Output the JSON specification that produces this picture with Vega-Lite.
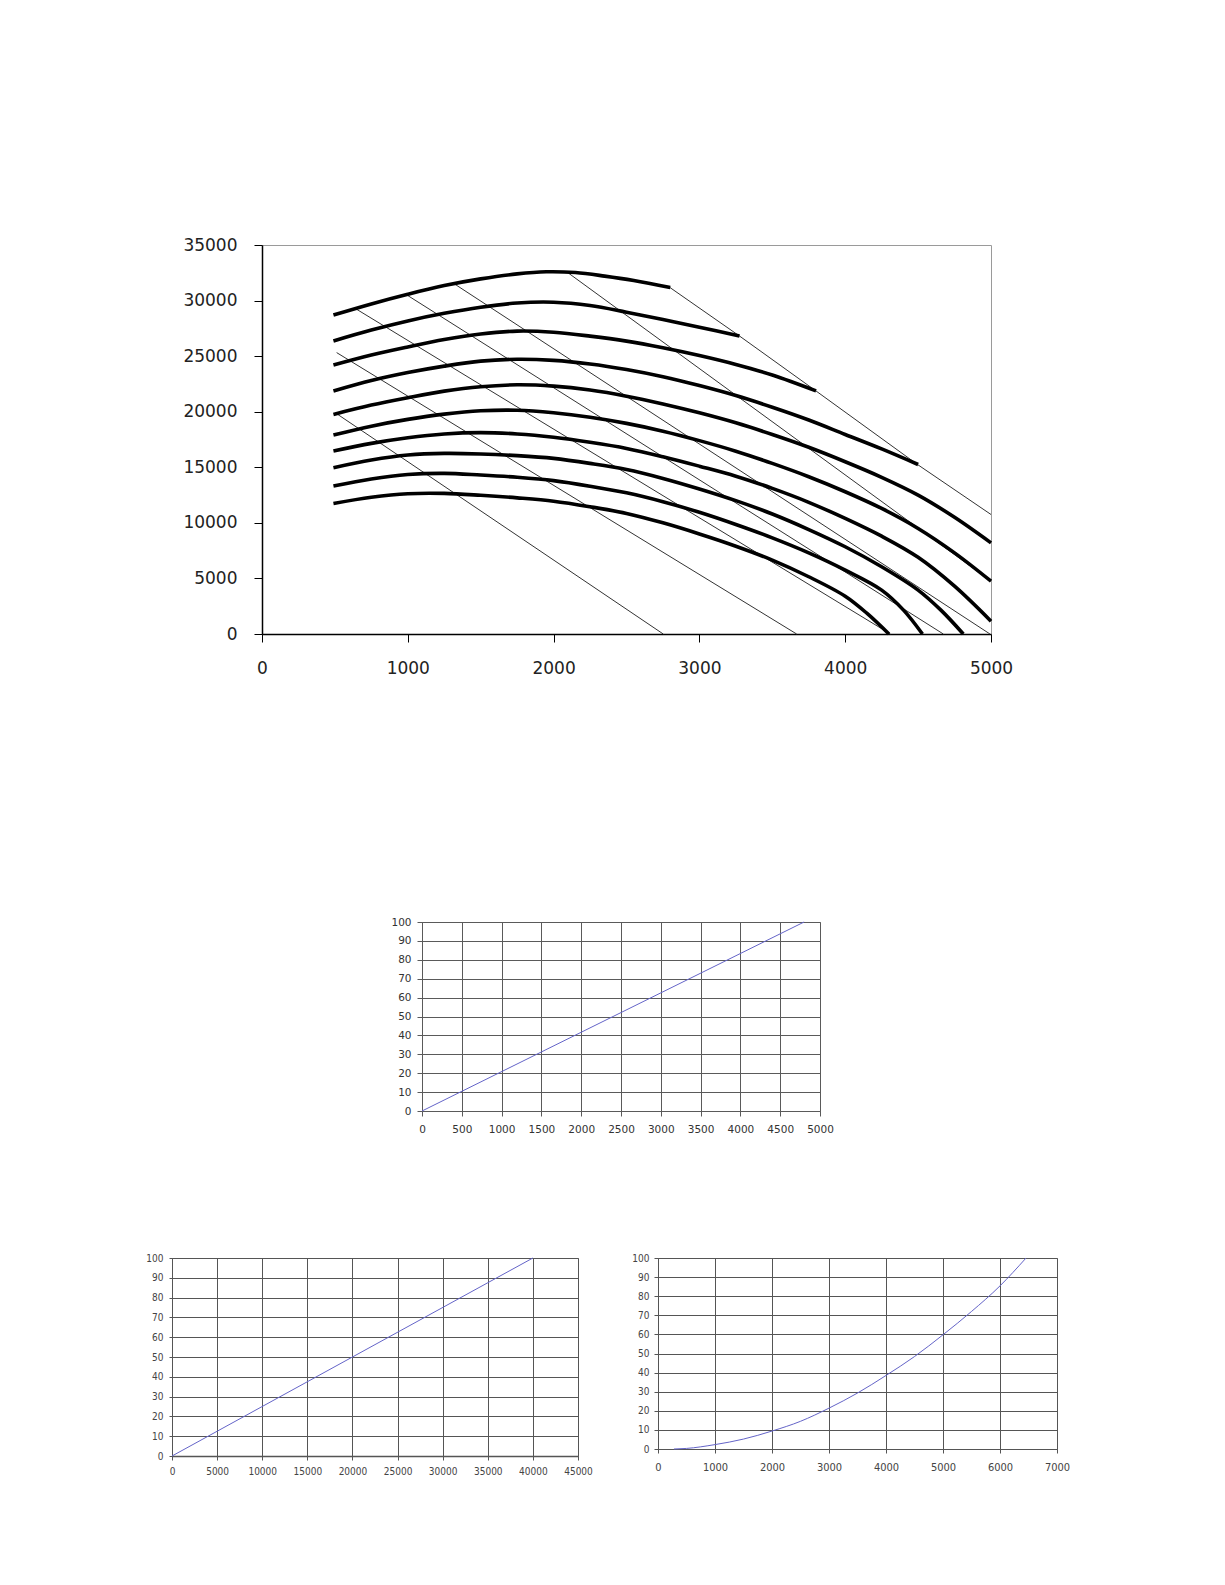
{
  "$schema": "https://vega.github.io/schema/vega-lite/v6.json",
  "padding": {"left": 0, "top": 235, "right": 0, "bottom": 0},
  "background": "white",
  "spacing": 0,
  "config": {"view": {"stroke": null}},
  "datasets": {
    "curves": [
      {"c":"c1","q":490,"h":28700},{"c":"c1","q":750,"h":29700},{"c":"c1","q":1000,"h":30570},{"c":"c1","q":1250,"h":31350},{"c":"c1","q":1500,"h":31950},{"c":"c1","q":1750,"h":32400},{"c":"c1","q":1950,"h":32590},{"c":"c1","q":2150,"h":32520},{"c":"c1","q":2350,"h":32200},{"c":"c1","q":2550,"h":31800},{"c":"c1","q":2800,"h":31170},
      {"c":"c2","q":490,"h":26370},{"c":"c2","q":750,"h":27350},{"c":"c2","q":1000,"h":28170},{"c":"c2","q":1250,"h":28850},{"c":"c2","q":1500,"h":29400},{"c":"c2","q":1750,"h":29780},{"c":"c2","q":2000,"h":29850},{"c":"c2","q":2250,"h":29550},{"c":"c2","q":2500,"h":28950},{"c":"c2","q":2750,"h":28300},{"c":"c2","q":3000,"h":27600},{"c":"c2","q":3275,"h":26820},
      {"c":"c3","q":490,"h":24200},{"c":"c3","q":750,"h":25100},{"c":"c3","q":1000,"h":25830},{"c":"c3","q":1250,"h":26500},{"c":"c3","q":1500,"h":27000},{"c":"c3","q":1750,"h":27250},{"c":"c3","q":2000,"h":27150},{"c":"c3","q":2250,"h":26800},{"c":"c3","q":2500,"h":26350},{"c":"c3","q":2750,"h":25750},{"c":"c3","q":3000,"h":25050},{"c":"c3","q":3250,"h":24250},{"c":"c3","q":3500,"h":23300},{"c":"c3","q":3800,"h":21870},
      {"c":"c4","q":490,"h":21860},{"c":"c4","q":750,"h":22800},{"c":"c4","q":1000,"h":23520},{"c":"c4","q":1250,"h":24100},{"c":"c4","q":1500,"h":24550},{"c":"c4","q":1750,"h":24720},{"c":"c4","q":2000,"h":24620},{"c":"c4","q":2250,"h":24300},{"c":"c4","q":2500,"h":23800},{"c":"c4","q":2750,"h":23150},{"c":"c4","q":3000,"h":22350},{"c":"c4","q":3250,"h":21450},{"c":"c4","q":3500,"h":20400},{"c":"c4","q":3750,"h":19250},{"c":"c4","q":4000,"h":17950},{"c":"c4","q":4250,"h":16650},{"c":"c4","q":4500,"h":15250},
      {"c":"c5","q":490,"h":19760},{"c":"c5","q":750,"h":20600},{"c":"c5","q":1000,"h":21260},{"c":"c5","q":1250,"h":21850},{"c":"c5","q":1500,"h":22250},{"c":"c5","q":1750,"h":22420},{"c":"c5","q":2000,"h":22300},{"c":"c5","q":2250,"h":21950},{"c":"c5","q":2500,"h":21400},{"c":"c5","q":2750,"h":20700},{"c":"c5","q":3000,"h":19900},{"c":"c5","q":3250,"h":19000},{"c":"c5","q":3500,"h":17950},{"c":"c5","q":3750,"h":16800},{"c":"c5","q":4000,"h":15500},{"c":"c5","q":4250,"h":14100},{"c":"c5","q":4500,"h":12500},{"c":"c5","q":4750,"h":10500},{"c":"c5","q":5000,"h":8200},
      {"c":"c6","q":490,"h":17900},{"c":"c6","q":750,"h":18700},{"c":"c6","q":1000,"h":19310},{"c":"c6","q":1250,"h":19780},{"c":"c6","q":1500,"h":20080},{"c":"c6","q":1750,"h":20130},{"c":"c6","q":2000,"h":19900},{"c":"c6","q":2250,"h":19500},{"c":"c6","q":2500,"h":18950},{"c":"c6","q":2750,"h":18250},{"c":"c6","q":3000,"h":17400},{"c":"c6","q":3250,"h":16450},{"c":"c6","q":3500,"h":15350},{"c":"c6","q":3750,"h":14150},{"c":"c6","q":4000,"h":12800},{"c":"c6","q":4250,"h":11300},{"c":"c6","q":4500,"h":9500},{"c":"c6","q":4750,"h":7300},{"c":"c6","q":5000,"h":4750},
      {"c":"c7","q":490,"h":16460},{"c":"c7","q":750,"h":17150},{"c":"c7","q":1000,"h":17660},{"c":"c7","q":1250,"h":18000},{"c":"c7","q":1500,"h":18120},{"c":"c7","q":1750,"h":18000},{"c":"c7","q":2000,"h":17700},{"c":"c7","q":2250,"h":17250},{"c":"c7","q":2500,"h":16700},{"c":"c7","q":2750,"h":15950},{"c":"c7","q":3000,"h":15100},{"c":"c7","q":3250,"h":14200},{"c":"c7","q":3500,"h":13100},{"c":"c7","q":3750,"h":11850},{"c":"c7","q":4000,"h":10400},{"c":"c7","q":4250,"h":8800},{"c":"c7","q":4500,"h":6900},{"c":"c7","q":4750,"h":4300},{"c":"c7","q":5000,"h":1150},
      {"c":"c8","q":490,"h":14960},{"c":"c8","q":750,"h":15650},{"c":"c8","q":1000,"h":16100},{"c":"c8","q":1250,"h":16250},{"c":"c8","q":1500,"h":16200},{"c":"c8","q":1750,"h":16050},{"c":"c8","q":2000,"h":15800},{"c":"c8","q":2250,"h":15350},{"c":"c8","q":2500,"h":14800},{"c":"c8","q":2750,"h":14000},{"c":"c8","q":3000,"h":13050},{"c":"c8","q":3250,"h":12000},{"c":"c8","q":3500,"h":10800},{"c":"c8","q":3750,"h":9400},{"c":"c8","q":4000,"h":7850},{"c":"c8","q":4250,"h":6050},{"c":"c8","q":4500,"h":3950},{"c":"c8","q":4660,"h":2100},{"c":"c8","q":4810,"h":0},
      {"c":"c9","q":490,"h":13310},{"c":"c9","q":750,"h":13950},{"c":"c9","q":1000,"h":14350},{"c":"c9","q":1250,"h":14450},{"c":"c9","q":1500,"h":14300},{"c":"c9","q":1750,"h":14100},{"c":"c9","q":2000,"h":13800},{"c":"c9","q":2250,"h":13300},{"c":"c9","q":2500,"h":12700},{"c":"c9","q":2750,"h":11900},{"c":"c9","q":3000,"h":10950},{"c":"c9","q":3250,"h":9850},{"c":"c9","q":3500,"h":8650},{"c":"c9","q":3750,"h":7300},{"c":"c9","q":4000,"h":5750},{"c":"c9","q":4250,"h":3950},{"c":"c9","q":4400,"h":2150},{"c":"c9","q":4530,"h":0},
      {"c":"c10","q":490,"h":11740},{"c":"c10","q":750,"h":12300},{"c":"c10","q":1000,"h":12620},{"c":"c10","q":1250,"h":12650},{"c":"c10","q":1500,"h":12480},{"c":"c10","q":1750,"h":12250},{"c":"c10","q":2000,"h":11950},{"c":"c10","q":2250,"h":11450},{"c":"c10","q":2500,"h":10850},{"c":"c10","q":2750,"h":10000},{"c":"c10","q":3000,"h":9000},{"c":"c10","q":3250,"h":7900},{"c":"c10","q":3500,"h":6650},{"c":"c10","q":3750,"h":5150},{"c":"c10","q":4000,"h":3400},{"c":"c10","q":4150,"h":1850},{"c":"c10","q":4300,"h":0}
    ],
    "thin": [
      {"l":"t1","q":651,"h":29200},{"l":"t1","q":4310,"h":0},
      {"l":"t2","q":994,"h":30500},{"l":"t2","q":4673,"h":0},
      {"l":"t3","q":1314,"h":31550},{"l":"t3","q":4993,"h":0},
      {"l":"t4","q":512,"h":25318},{"l":"t4","q":3667,"h":0},
      {"l":"t5","q":512,"h":19822},{"l":"t5","q":2752,"h":0},
      {"l":"t6","q":2101,"h":32480},{"l":"t6","q":5000,"h":4750},
      {"l":"t7","q":2798,"h":31174},{"l":"t7","q":3274,"h":26820},{"l":"t7","q":3800,"h":21865},{"l":"t7","q":4495,"h":15258},{"l":"t7","q":5000,"h":10753}
    ],
    "lin1": [{"x":0,"y":0},{"x":4800,"y":100}],
    "lin2": [{"x":0,"y":0},{"x":40000,"y":100}],
    "quad": [
      {"x":280,"y":0},{"x":500,"y":0.3},{"x":1000,"y":2.3},{"x":1500,"y":5.2},{"x":2000,"y":9.4},{"x":2500,"y":14.5},{"x":3000,"y":21.4},{"x":3500,"y":29.3},{"x":4000,"y":38.5},{"x":4500,"y":48.4},{"x":5000,"y":59.8},{"x":5500,"y":72},{"x":6000,"y":85.4},{"x":6457,"y":100}
    ]
  },
  "vconcat": [
    {
      "hconcat": [
        {"width":262,"height":671,"data":{"values":[{}]},"mark":{"type":"point","opacity":0}},
        {
          "width": 729, "height": 389,
          "view": {"stroke": "#9a9a9a", "strokeWidth": 1},
          "layer": [
            {
              "data": {"name": "thin"},
              "mark": {"type": "line", "color": "#333333", "strokeWidth": 1},
              "encoding": {
                "x": {"field": "q", "type": "quantitative", "scale": {"domain": [0, 5000], "nice": false},
                  "axis": {"values": [0,1000,2000,3000,4000,5000], "format": "d", "title": null, "grid": false, "domainColor": "#000000", "domainWidth": 1.5, "tickColor": "#000000", "tickSize": 8, "labelFont": "DejaVu Sans", "labelFontSize": 17, "labelColor": "#222222", "labelPadding": 18, "labelFlush": false, "labelOverlap": false}},
                "y": {"field": "h", "type": "quantitative", "scale": {"domain": [0, 35000], "nice": false},
                  "axis": {"values": [0,5000,10000,15000,20000,25000,30000,35000], "format": "d", "title": null, "grid": false, "domainColor": "#000000", "domainWidth": 1.5, "tickColor": "#000000", "tickSize": 8, "labelFont": "DejaVu Sans", "labelFontSize": 17, "labelColor": "#222222", "labelPadding": 17, "labelOverlap": false}},
                "detail": {"field": "l"}
              }
            },
            {
              "data": {"name": "curves"},
              "mark": {"type": "line", "color": "#000000", "strokeWidth": 3.6, "interpolate": "catmull-rom"},
              "encoding": {
                "x": {"field": "q", "type": "quantitative"},
                "y": {"field": "h", "type": "quantitative"},
                "detail": {"field": "c"}
              }
            }
          ]
        }
      ],
      "spacing": 0,
      "bounds": "flush"
    },
    {
      "hconcat": [
        {"width":422,"height":330,"data":{"values":[{}]},"mark":{"type":"point","opacity":0}},
        {
          "width": 398, "height": 189,
          "view": {"stroke": "#888888"},
          "data": {"name": "lin1"},
          "mark": {"type": "line", "color": "#6464c8", "strokeWidth": 1},
          "encoding": {
            "x": {"field": "x", "type": "quantitative", "scale": {"domain": [0, 5000], "nice": false},
              "axis": {"values": [0,500,1000,1500,2000,2500,3000,3500,4000,4500,5000], "format": "d", "title": null, "grid": true, "gridColor": "#5a5a5a", "gridOpacity": 1, "domainColor": "#5a5a5a", "tickColor": "#5a5a5a", "tickSize": 5, "labelFont": "DejaVu Sans", "labelFontSize": 10.5, "labelColor": "#333333", "labelPadding": 8, "labelFlush": false, "labelOverlap": false}},
            "y": {"field": "y", "type": "quantitative", "scale": {"domain": [0, 100], "nice": false},
              "axis": {"values": [0,10,20,30,40,50,60,70,80,90,100], "format": "d", "title": null, "grid": true, "gridColor": "#5a5a5a", "gridOpacity": 1, "domainColor": "#5a5a5a", "tickColor": "#5a5a5a", "tickSize": 5, "labelFont": "DejaVu Sans", "labelFontSize": 10.5, "labelColor": "#333333", "labelPadding": 6, "labelOverlap": false}}
          }
        }
      ],
      "spacing": 0,
      "bounds": "flush"
    },
    {
      "hconcat": [
        {"width":172,"height":230,"data":{"values":[{}]},"mark":{"type":"point","opacity":0}},
        {
          "width": 406, "height": 198,
          "view": {"stroke": "#999999"},
          "data": {"name": "lin2"},
          "mark": {"type": "line", "color": "#6464c8", "strokeWidth": 1},
          "encoding": {
            "x": {"field": "x", "type": "quantitative", "scale": {"domain": [0, 45000], "nice": false},
              "axis": {"values": [0,5000,10000,15000,20000,25000,30000,35000,40000,45000], "format": "d", "title": null, "grid": true, "gridColor": "#555555", "gridOpacity": 1, "domainColor": "#555555", "domainWidth": 1.5, "tickColor": "#555555", "tickSize": 4, "labelFont": "DejaVu Sans Condensed, DejaVu Sans", "labelFontSize": 10, "labelColor": "#444444", "labelPadding": 6, "labelFlush": false, "labelOverlap": false}},
            "y": {"field": "y", "type": "quantitative", "scale": {"domain": [0, 100], "nice": false},
              "axis": {"values": [0,10,20,30,40,50,60,70,80,90,100], "format": "d", "title": null, "grid": true, "gridColor": "#555555", "gridOpacity": 1, "domainColor": "#555555", "tickColor": "#555555", "tickSize": 3, "labelFont": "DejaVu Sans Condensed, DejaVu Sans", "labelFontSize": 10, "labelColor": "#444444", "labelPadding": 6, "labelOverlap": false}}
          }
        },
        {"width":80,"height":230,"data":{"values":[{}]},"mark":{"type":"point","opacity":0}},
        {
          "width": 399, "height": 191,
          "view": {"stroke": "#999999"},
          "data": {"name": "quad"},
          "mark": {"type": "line", "color": "#6464c8", "strokeWidth": 1, "interpolate": "monotone"},
          "encoding": {
            "x": {"field": "x", "type": "quantitative", "scale": {"domain": [0, 7000], "nice": false},
              "axis": {"values": [0,1000,2000,3000,4000,5000,6000,7000], "format": "d", "title": null, "grid": true, "gridColor": "#555555", "gridOpacity": 1, "domainColor": "#555555", "tickColor": "#555555", "tickSize": 4, "labelFont": "DejaVu Sans Condensed, DejaVu Sans", "labelFontSize": 11, "labelColor": "#444444", "labelPadding": 8, "labelFlush": false, "labelOverlap": false}},
            "y": {"field": "y", "type": "quantitative", "scale": {"domain": [0, 100], "nice": false},
              "axis": {"values": [0,10,20,30,40,50,60,70,80,90,100], "format": "d", "title": null, "grid": true, "gridColor": "#555555", "gridOpacity": 1, "domainColor": "#555555", "tickColor": "#555555", "tickSize": 4, "labelFont": "DejaVu Sans Condensed, DejaVu Sans", "labelFontSize": 10, "labelColor": "#444444", "labelPadding": 5, "labelOverlap": false}}
          }
        }
      ],
      "spacing": 0,
      "bounds": "flush"
    }
  ]
}
